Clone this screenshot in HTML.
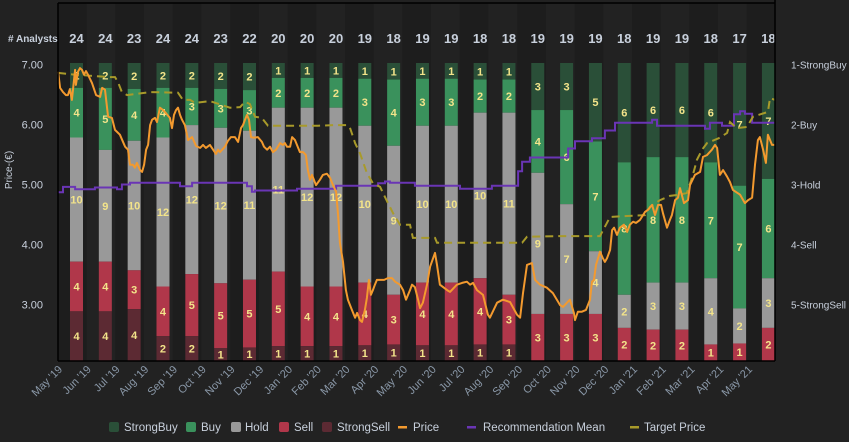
<!DOCTYPE html>
<html><head><meta charset="utf-8">
<style>
html,body{margin:0;padding:0;background:#222;}
svg{display:block;font-family:"Liberation Sans",sans-serif;}
</style></head>
<body>
<svg id="chart" width="849" height="442" viewBox="0 0 849 442" xmlns="http://www.w3.org/2000/svg">
<rect x="0" y="0" width="849" height="442" fill="#222"/>
<g id="bands"></g>
<g id="bars"></g>
<g id="lines"></g>
<g id="frame">
<line x1="58" y1="3" x2="775" y2="3" stroke="#000" stroke-width="1.5"/>
<line x1="58" y1="3" x2="58" y2="361" stroke="#000" stroke-width="1.5"/>
<line x1="58" y1="361" x2="775" y2="361" stroke="#000" stroke-width="1.5"/>
<line x1="775" y1="0" x2="775" y2="361" stroke="#000" stroke-width="1.5"/>
</g>
<text x="8" y="42" font-size="10" font-weight="bold" fill="#c8d0dc"># Analysts</text>
<text transform="translate(12,170) rotate(-90)" text-anchor="middle" font-size="10" fill="#c8d0dc">Price-(€)</text>
<g id="axes"></g>
<g id="legend"></g>
</svg>
<script>
const months = ["May '19","Jun '19","Jul '19","Aug '19","Sep '19","Oct '19","Nov '19","Dec '19","Jan '20","Feb '20","Mar '20","Apr '20","May '20","Jun '20","Jul '20","Aug '20","Sep '20","Oct '20","Nov '20","Dec '20","Jan '21","Feb '21","Mar '21","Apr '21","May '21"];
const strongBuy  = [2,2,2,2,2,2,2,1,1,1,1,1,1,1,1,1,3,3,5,6,6,6,6,7,7];
const buy        = [4,5,4,4,3,3,3,2,2,2,3,4,3,3,2,2,4,6,7,8,8,8,7,7,6];
const hold       = [10,9,10,12,12,12,11,11,12,12,10,9,10,10,10,11,9,7,4,2,3,3,4,2,3];
const sell       = [4,4,3,4,5,5,5,5,4,4,4,3,4,4,4,3,3,3,3,2,2,2,1,1,2];
const strongSell = [4,4,4,2,2,1,1,1,1,1,1,1,1,1,1,1,0,0,0,0,0,0,0,0,0];
const priceTicks = [7,6,5,4,3];
const recLabels = ["1-StrongBuy","2-Buy","3-Hold","4-Sell","5-StrongSell"];
const priceT = [-0.17,-0.10,0,0.10,0.17,0.24,0.31,0.42,0.45,0.52,0.59,0.66,0.73,0.80,0.87,1.01,1.15,1.29,1.36,1.46,1.57,1.70,1.81,1.98,2.16,2.26,2.33,2.43,2.50,2.57,2.68,2.75,2.82,2.89,2.96,3.03,3.10,3.20,3.27,3.37,3.48,3.58,3.72,3.79,3.86,3.93,4.00,4.07,4.14,4.24,4.35,4.49,4.63,4.77,4.87,4.97,5.11,5.22,5.32,5.39,5.46,5.63,5.74,5.84,5.98,6.09,6.19,6.26,6.33,6.40,6.47,6.54,6.64,6.78,6.92,6.99,7.10,7.20,7.30,7.41,7.55,7.65,7.72,7.79,7.90,7.97,8.07,8.24,8.35,8.45,8.52,8.59,8.66,8.80,8.94,9.04,9.18,9.29,9.39,9.50,9.57,9.63,9.74,9.84,9.91,10.05,10.16,10.23,10.33,10.40,10.50,10.57,10.64,10.71,10.78,10.85,10.92,11.17,11.30,11.44,11.55,11.72,11.83,11.93,12.07,12.14,12.24,12.35,12.42,12.52,12.66,12.77,12.94,13.01,13.11,13.36,13.46,13.70,13.88,14.05,14.16,14.26,14.40,14.61,14.78,14.85,15.10,15.30,15.55,15.79,15.90,16.00,16.14,16.31,16.42,16.59,16.83,17.04,17.29,17.39,17.53,17.63,17.77,17.81,17.91,18.05,18.19,18.33,18.40,18.47,18.54,18.68,18.78,18.85,18.92,19.03,19.10,19.17,19.27,19.37,19.51,19.62,19.72,19.83,19.93,20.07,20.24,20.35,20.49,20.59,20.70,20.80,20.87,21.01,21.11,21.18,21.29,21.39,21.46,21.60,21.74,21.81,21.98,22.16,22.26,22.40,22.57,22.68,22.75,22.85,22.96,23.10,23.20,23.30,23.55,23.72,23.83,23.97,24.07,24.17,24.24,24.35,24.45,24.52,24.66,24.77];
const priceV = [6.88,6.61,6.54,6.49,6.49,6.59,6.41,6.91,6.66,6.88,6.94,6.91,6.83,6.89,6.83,6.69,6.49,6.46,6.61,6.58,6.13,6.11,5.91,5.83,5.63,5.58,5.33,5.33,5.28,5.36,5.24,5.21,5.33,5.58,5.66,5.99,6.08,6.11,6.04,6.28,6.24,6.19,6.11,5.94,6.16,6.24,6.28,6.16,6.08,5.99,5.74,5.79,5.64,5.61,5.66,5.61,5.66,5.58,5.51,5.58,5.54,5.63,5.73,5.79,5.79,5.71,5.94,5.99,6.08,6.16,6.08,5.79,5.78,5.79,5.71,5.63,5.58,5.63,5.54,5.58,5.69,5.66,5.69,5.63,5.63,5.79,5.74,5.54,5.54,5.49,5.24,5.08,5.16,4.99,5.08,5.16,5.18,5.11,4.99,4.88,4.49,4.03,3.71,3.24,3.08,2.91,2.78,2.86,2.74,2.71,2.91,3.11,3.41,3.16,3.24,3.33,3.41,3.41,3.44,3.44,3.38,3.33,3.24,3.08,3.24,3.33,3.29,3.08,2.94,3.03,3.33,3.63,3.86,3.66,3.33,3.24,3.21,3.33,3.36,3.38,3.33,3.36,3.24,3.16,2.83,2.78,3.03,3.08,3.04,2.83,2.78,3.19,3.66,3.69,3.41,3.33,3.28,3.19,2.99,2.96,3.03,3.08,2.86,2.74,2.88,2.88,2.91,3.08,3.38,3.41,3.66,3.88,3.77,3.71,3.77,3.91,4.24,4.28,4.16,4.28,4.33,4.21,4.33,4.38,4.36,4.41,4.54,4.58,4.66,4.49,4.66,4.66,4.52,4.28,4.41,4.49,4.74,4.78,4.94,4.69,4.74,4.99,5.16,5.21,5.46,5.49,5.58,5.66,5.61,5.16,5.24,5.13,5.04,4.91,4.83,4.69,4.74,4.78,5.33,5.74,5.79,5.58,5.36,5.83,5.66,5.66];
const targetT = [-0.17,0.42,1.63,1.81,1.91,2.05,2.23,3.03,4.00,4.17,4.42,4.59,5.11,5.81,6.16,6.33,6.50,6.68,6.92,7.13,8.87,9.46,9.88,9.98,10.16,10.33,10.57,10.78,11.03,11.20,11.48,11.72,12.07,12.17,12.94,13.01,15.97,16.14,17.29,18.68,19.03,20.24,20.42,20.77,21.11,21.46,21.70,21.91,22.05,22.23,22.40,22.85,23.10,23.20,23.44,23.79,24.00,24.52,24.59,24.77];
const targetV = [6.86,6.83,6.79,6.79,6.71,6.54,6.49,6.54,6.53,6.41,6.41,6.36,6.39,6.28,6.29,6.38,6.34,6.13,6.11,5.98,5.98,5.99,5.99,5.95,5.69,5.52,5.19,5.02,4.96,4.79,4.52,4.33,4.33,4.11,4.11,4.03,4.03,4.13,4.14,4.14,4.46,4.49,4.63,4.74,4.81,4.83,4.86,5.16,5.41,5.58,5.69,5.78,5.86,6.04,5.94,5.96,6.13,6.21,6.44,6.41];
const recT = [-0.17,0,0.42,1.11,1.88,2.05,2.33,4.07,4.49,6.40,6.57,6.68,8.14,9.50,10.96,11.20,11.37,12.24,13.81,14.92,15.83,15.97,16.24,17.57,17.81,18.40,18.85,19.20,20.49,20.66,22.33,22.50,22.92,23.34,23.55,23.72,23.97,24.77];
const recV = [3.13,3.04,3.08,3.05,3.08,3.00,2.97,3.03,2.97,3.03,3.12,3.10,3.07,3.02,2.98,2.95,2.97,3.02,3.07,3.02,2.78,2.62,2.55,2.40,2.28,2.23,2.10,1.97,1.92,2.02,2.07,1.97,2.02,1.83,1.78,1.82,1.97,1.97];

const NS = "http://www.w3.org/2000/svg";
const PLOT_TOP = 63, PLOT_BOT = 361, PLOT_L = 58, PLOT_R = 775;
const xTime = t => 63 + 28.75 * t;
const yPrice = p => 64.5 + 60 * (7 - p);
const yRec = r => 64.5 + 60 * (r - 1);
const barX = i => 70 + 28.83 * i;
const BAR_W = 13;
function mk(tag, attrs, parent) {
  const el = document.createElementNS(NS, tag);
  for (const k in attrs) el.setAttribute(k, attrs[k]);
  parent.appendChild(el);
  return el;
}
const bands = document.getElementById('bands');
for (let i = 0; i < months.length; i++) {
  const b = mk('rect', {x: PLOT_L + 28.7 * i, y: 3, width: 28.7, height: PLOT_BOT - 3, fill: i % 2 ? '#222222' : '#1d1d1d'}, bands);
  
  
}
const barsG = document.getElementById('bars');
const series = [
  {vals: strongBuy, color: '#2a4f38', name: 'strongbuy'},
  {vals: buy, color: '#3a915c', name: 'buy'},
  {vals: hold, color: '#999999', name: 'hold'},
  {vals: sell, color: '#b0374a', name: 'sell'},
  {vals: strongSell, color: '#5c2a33', name: 'strongsell'}
];
for (let i = 0; i < months.length; i++) {
  let total = 0;
  series.forEach(s => total += s.vals[i]);
  const x = barX(i);
  const cnt = mk('text', {x: x + BAR_W / 2, y: 43, 'text-anchor': 'middle', 'font-size': 13, 'font-weight': 'bold', fill: '#c8d0dc'}, barsG);
  cnt.textContent = total;
  
  
  let y = PLOT_TOP;
  const unit = (PLOT_BOT - PLOT_TOP) / total;
  series.forEach(s => {
    const v = s.vals[i];
    if (!v) return;
    const h = v * unit;
    const r = mk('rect', {x: x, y: y, width: BAR_W, height: h, fill: s.color}, barsG);
    
    
    const t = mk('text', {x: x + BAR_W / 2, y: y + h / 2 + 4, 'text-anchor': 'middle', 'font-size': 11, 'font-weight': 'bold', fill: '#f3e48a'}, barsG);
    t.textContent = v;
    
    
    y += h;
  });
}
const linesG = document.getElementById('lines');
function pathFrom(ts, vs, yf, step) {
  let d = '';
  for (let i = 0; i < ts.length; i++) {
    const x = Math.max(PLOT_L, xTime(ts[i])), y = yf(vs[i]);
    if (i === 0) d += 'M' + x.toFixed(1) + ',' + y.toFixed(1);
    else {
      if (step) d += 'H' + x.toFixed(1);
      d += 'L' + x.toFixed(1) + ',' + y.toFixed(1);
    }
  }
  if (step) d += 'H' + PLOT_R;
  return d;
}
const recPath = mk('path', {d: pathFrom(recT, recV, yRec, true), fill: 'none', stroke: '#6a35b5', 'stroke-width': 2}, linesG);


const tgtPath = mk('path', {d: pathFrom(targetT, targetV, yPrice, false), fill: 'none', stroke: '#a89a2a', 'stroke-width': 2, 'stroke-dasharray': '8,5'}, linesG);


const pricePath = mk('path', {d: pathFrom(priceT, priceV, yPrice, false), fill: 'none', stroke: '#f39a2f', 'stroke-width': 2, 'stroke-linejoin': 'round'}, linesG);



const axes = document.getElementById('axes');
priceTicks.forEach(p => {
  const t = mk('text', {x: 43, y: yPrice(p) + 4, 'text-anchor': 'end', 'font-size': 11, fill: '#c8d0dc'}, axes);
  t.textContent = p.toFixed(2);
  
  
});
recLabels.forEach((l, i) => {
  const t = mk('text', {x: 791, y: yRec(i + 1) + 4, 'font-size': 10, fill: '#c8d0dc', 'textLength': 0}, axes);
  t.removeAttribute('textLength');
  t.textContent = l;
  
  
});
months.forEach((m, i) => {
  const x = xTime(i);
  const t = mk('text', {x: x, y: 370, 'text-anchor': 'end', 'font-size': 11, fill: '#8a98a8', transform: 'rotate(-45 ' + x + ' 370)'}, axes);
  t.textContent = m;
  
  
});

const legend = document.getElementById('legend');
const legendItems = [
  {type: 'sq', color: '#2a4f38', label: 'StrongBuy', sx: 109, tx: 124},
  {type: 'sq', color: '#3a915c', label: 'Buy', sx: 186, tx: 201},
  {type: 'sq', color: '#999999', label: 'Hold', sx: 231, tx: 245},
  {type: 'sq', color: '#b0374a', label: 'Sell', sx: 279, tx: 294},
  {type: 'sq', color: '#5c2a33', label: 'StrongSell', sx: 322, tx: 337},
  {type: 'ln', color: '#f39a2f', label: 'Price', sx: 398, tx: 413},
  {type: 'ln', color: '#6a35b5', label: 'Recommendation Mean', sx: 467, tx: 483},
  {type: 'ln', color: '#a89a2a', label: 'Target Price', sx: 630, tx: 644}
];
legendItems.forEach(it => {
  const g = mk('g', {}, legend);
  
  
  if (it.type === 'sq') mk('rect', {x: it.sx, y: 422, width: 10, height: 10, rx: 2, fill: it.color}, g);
  else mk('rect', {x: it.sx, y: 426, width: 9, height: 2.5, fill: it.color}, g);
  const t = mk('text', {x: it.tx, y: 431, 'font-size': 11.5, fill: '#c8d0dc'}, g);
  t.textContent = it.label;
});
</script>
</body></html>
